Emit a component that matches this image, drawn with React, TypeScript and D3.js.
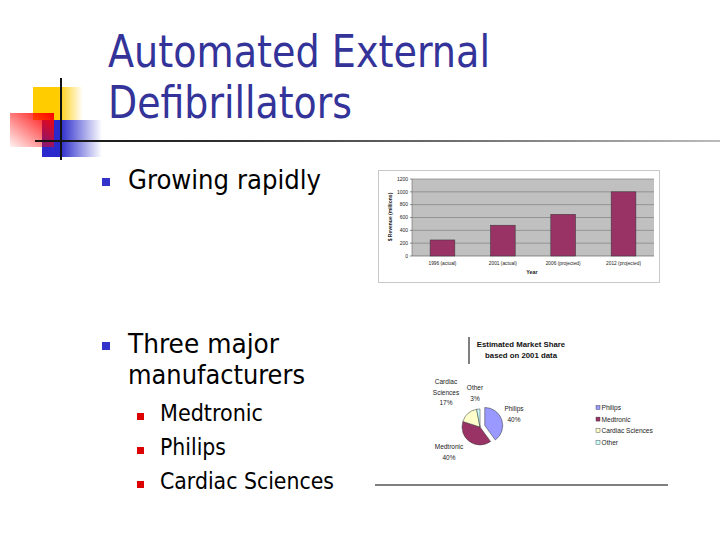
import React from "react";
import * as d3 from "d3";

// ---------- Data ----------
const years = ["1996 (actual)", "2001 (actual)", "2006 (projected)", "2012 (projected)"];
const revenue = [250, 480, 650, 1000];
const revenueTicks = [0, 200, 400, 600, 800, 1000, 1200];

const makers = ["Philips", "Medtronic", "Cardiac Sciences", "Other"];
const shares = [40, 40, 17, 3];
const makerColors = ["#9999ff", "#993366", "#ffffcc", "#ccffff"];

const titleLines = ["Automated External", "Defibrillators"];
const subBullets = ["Medtronic", "Philips", "Cardiac Sciences"];

const TITLE_FONT = "'DejaVu Sans Condensed', 'DejaVu Sans', Verdana, sans-serif";
const CHART_FONT = "'Liberation Sans', Arial, sans-serif";

function BarChart() {
  const plot = { x0: 412, x1: 654, y0: 179, y1: 256 };
  const x = d3.scaleBand<string>().domain(years).range([plot.x0, plot.x1]).paddingInner(0.59).paddingOuter(0.3);
  const y = d3.scaleLinear().domain([0, 1200]).range([plot.y1, plot.y0]);
  return (
    <g>
      <rect x={378.5} y={170.5} width={281} height={112} fill="#ffffff" stroke="#c8c8c8" strokeWidth={1} />
      <rect x={plot.x0} y={plot.y0} width={plot.x1 - plot.x0} height={plot.y1 - plot.y0} fill="#c0c0c0" />
      {revenueTicks.map((t) => (
        <g key={t}>
          <line x1={plot.x0} x2={plot.x1} y1={y(t)} y2={y(t)} stroke={t === 0 ? "#666" : "#808080"} strokeWidth={0.7} />
          <line x1={plot.x0 - 2} x2={plot.x0} y1={y(t)} y2={y(t)} stroke="#444" strokeWidth={0.6} />
          <text x={plot.x0 - 4} y={y(t) + 1.8} fontSize={5} textAnchor="end" fontFamily={CHART_FONT} fill="#222">{t}</text>
        </g>
      ))}
      <line x1={plot.x0} x2={plot.x0} y1={plot.y0} y2={plot.y1} stroke="#666" strokeWidth={0.6} />
      {years.map((c, i) => (
        <g key={c}>
          <rect x={x(c)} y={y(revenue[i])} width={x.bandwidth()} height={plot.y1 - y(revenue[i])} fill="#993366" stroke="#333" strokeWidth={0.5} />
          <text x={(x(c) as number) + x.bandwidth() / 2} y={265} fontSize={4.8} textAnchor="middle" fontFamily={CHART_FONT} fill="#222">{c}</text>
        </g>
      ))}
      <text x={532} y={274} fontSize={5.4} fontWeight="bold" textAnchor="middle" fontFamily={CHART_FONT} fill="#222">Year</text>
      <text transform="translate(392,217) rotate(-90)" fontSize={5} fontWeight="bold" textAnchor="middle" fontFamily={CHART_FONT} fill="#222">$ Revenue (millions)</text>
    </g>
  );
}

function PieChart() {
  const cx = 480, cy = 427, r = 18;
  const pie = d3.pie<number>().sort(null).value((d) => d);
  const arcs = pie(shares);
  const arc = d3.arc<d3.PieArcDatum<number>>().innerRadius(0).outerRadius(r);
  const labelPos: { x: number; y: number; lines: string[] }[] = [
    { x: 514, y: 411, lines: ["Philips", "40%"] },
    { x: 449, y: 449, lines: ["Medtronic", "40%"] },
    { x: 446, y: 384, lines: ["Cardiac", "Sciences", "17%"] },
    { x: 475, y: 390, lines: ["Other", "3%"] },
  ];
  return (
    <g>
      <line x1={469} x2={469} y1={337} y2={364} stroke="#000" strokeWidth={1} />
      <text x={521} y={347} fontSize={7.8} fontWeight="bold" textAnchor="middle" fontFamily={CHART_FONT} fill="#111">Estimated Market Share</text>
      <text x={521} y={358} fontSize={7.8} fontWeight="bold" textAnchor="middle" fontFamily={CHART_FONT} fill="#111">based on 2001 data</text>
      {arcs.map((a, i) => {
        const mid = (a.startAngle + a.endAngle) / 2;
        const off = i === 0 ? 5 : 0;
        const dx = Math.sin(mid) * off, dy = -Math.cos(mid) * off;
        return (
          <path key={makers[i]} d={arc(a) as string} transform={`translate(${cx + dx},${cy + dy})`} fill={makerColors[i]} stroke="#333" strokeWidth={0.5} />
        );
      })}
      {labelPos.map((l, i) => (
        <text key={makers[i]} x={l.x} y={l.y} fontSize={6.5} textAnchor="middle" fontFamily={CHART_FONT} fill="#222">
          {l.lines.map((s, j) => (
            <tspan key={j} x={l.x} dy={j === 0 ? 0 : 10.5}>{s}</tspan>
          ))}
        </text>
      ))}
      {makers.map((m, i) => (
        <g key={m}>
          <rect x={596} y={405.5 + i * 11.6} width={4} height={4} fill={makerColors[i]} stroke="#333" strokeWidth={0.4} />
          <text x={601.5} y={410 + i * 11.6} fontSize={6.6} fontFamily={CHART_FONT} fill="#222">{m}</text>
        </g>
      ))}
      <line x1={375} x2={668} y1={485} y2={485} stroke="#000" strokeWidth={1.2} />
    </g>
  );
}

export default function App() {
  return (
    <svg width={720} height={540} style={{ position: "absolute", left: 0, top: 0, background: "#fff" }}>
      <defs>
        <linearGradient id="gYellow" x1="0" x2="1" y1="0" y2="0">
          <stop offset="0" stopColor="#ffcc00" />
          <stop offset="0.5" stopColor="#ffcc00" />
          <stop offset="1" stopColor="#ffcc00" stopOpacity="0" />
        </linearGradient>
        <linearGradient id="gBlue" x1="0" x2="1" y1="0" y2="0">
          <stop offset="0" stopColor="#2a2acc" />
          <stop offset="0.3" stopColor="#2a2acc" />
          <stop offset="1" stopColor="#2a2acc" stopOpacity="0" />
        </linearGradient>
        <linearGradient id="gRed" x1="1" x2="0" y1="0" y2="1">
          <stop offset="0" stopColor="#ff0000" />
          <stop offset="1" stopColor="#ff0000" stopOpacity="0.05" />
        </linearGradient>
        <linearGradient id="gLine" x1="0" x2="1" y1="0" y2="0">
          <stop offset="0" stopColor="#111" />
          <stop offset="0.3" stopColor="#333" />
          <stop offset="1" stopColor="#bbb" />
        </linearGradient>
      </defs>

      {/* decoration */}
      <rect x={33} y={87} width={50} height={33} fill="url(#gYellow)" />
      <rect x={42} y={120} width={60} height={37} fill="url(#gBlue)" />
      <rect x={10} y={113} width={44} height={34} fill="url(#gRed)" />
      <rect x={35} y={140} width={685} height={2} fill="url(#gLine)" />
      <line x1={61} x2={61} y1={78} y2={160} stroke="#111" strokeWidth={2} />

      {/* title */}
      <text x={108} y={67} fontSize={44} fill="#333399" fontFamily={TITLE_FONT} textLength={382} lengthAdjust="spacingAndGlyphs">{titleLines[0]}</text>
      <text x={108} y={118} fontSize={44} fill="#333399" fontFamily={TITLE_FONT} textLength={244} lengthAdjust="spacingAndGlyphs">{titleLines[1]}</text>

      {/* bullets */}
      <rect x={102} y={178} width={8} height={8} fill="#3333cc" />
      <text x={128} y={189} fontSize={27} fill="#000" fontFamily={TITLE_FONT} textLength={193} lengthAdjust="spacingAndGlyphs">Growing rapidly</text>
      <rect x={102} y={342} width={8} height={8} fill="#3333cc" />
      <text x={128} y={353} fontSize={27} fill="#000" fontFamily={TITLE_FONT} textLength={151} lengthAdjust="spacingAndGlyphs">Three major</text>
      <text x={128} y={384} fontSize={27} fill="#000" fontFamily={TITLE_FONT} textLength={177} lengthAdjust="spacingAndGlyphs">manufacturers</text>
      {subBullets.map((s, i) => (
        <g key={s}>
          <rect x={137} y={413 + i * 34} width={7} height={7} fill="#dd0000" />
          <text x={160} y={421 + i * 34} fontSize={23} fill="#000" fontFamily={TITLE_FONT}
            textLength={[103, 66, 174][i]} lengthAdjust="spacingAndGlyphs">{s}</text>
        </g>
      ))}

      <BarChart />
      <PieChart />
    </svg>
  );
}
